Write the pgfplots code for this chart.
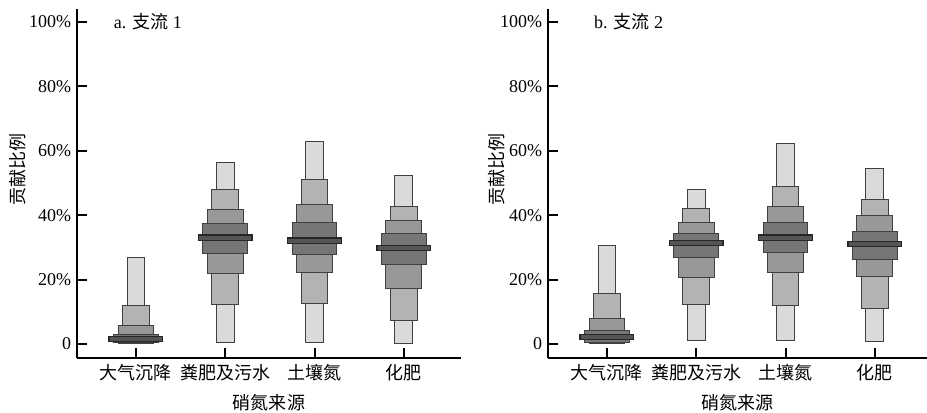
\documentclass[border=0pt]{standalone}
\usepackage{fontspec}
\setmainfont{Liberation Serif}
\newfontfamily\cjk{Noto Sans CJK SC}
\usepackage{pgfplots}
\pgfplotsset{compat=1.18}
\usepgfplotslibrary{statistics}

\definecolor{ca}{HTML}{DADADA}
\definecolor{cb}{HTML}{B3B3B3}
\definecolor{cc}{HTML}{989898}
\definecolor{cd}{HTML}{767676}
\definecolor{ce}{HTML}{555555}

\newcommand\lv[5]{\addplot[boxplot prepared={draw direction=y, draw position=#1, lower whisker=#2, lower quartile=#2, median=#3, upper quartile=#3, upper whisker=#3, box extend=#4, whisker extend=0}, fill=#5, draw=black!75, line width=0.6pt] coordinates {};}
\newcommand\src[9]{%
  \lv{#1}{#2}{#3}{0.2}{ca}%
  \lv{#1}{#4}{#5}{0.3}{cb}%
  \lv{#1}{#6}{#7}{0.4}{cc}%
  \lv{#1}{#8}{#9}{0.5}{cd}%
}
\newcommand\med[3]{\addplot[boxplot prepared={draw direction=y, draw position=#1, lower whisker=#2, lower quartile=#2, median=#3, upper quartile=#3, upper whisker=#3, box extend=0.6, whisker extend=0}, fill=ce, draw=black!85, line width=0.8pt] coordinates {};}

\pgfplotsset{panel/.style={
  scale only axis, height=209.4pt,
  xmin=-0.66, ymin=-4.35, ymax=104,
  axis x line*=bottom, axis y line*=left,
  axis line style={line width=1pt},
  xtick={0,1,2,3}, xticklabels={大气沉降,粪肥及污水,土壤氮,化肥},
  ytick={0,20,40,60,80,100}, yticklabels={0,20\%,40\%,60\%,80\%,100\%},
  xticklabel style={font=\cjk\fontsize{10.8}{12}\selectfont},
  yticklabel style={font=\fontsize{10.8}{12}\selectfont},
  /pgf/number format/assume math mode=true,
  xlabel={硝氮来源}, ylabel={贡献比例},
  xlabel style={font=\cjk\fontsize{10.8}{12}\selectfont, at={(axis description cs:0.5,-0.129)}, anchor=center},
  ylabel style={font=\cjk\fontsize{10.8}{12}\selectfont, anchor=center},
  clip=false,
}}

\begin{document}
\begin{tikzpicture}
\begin{axis}[panel, width=230.4pt, xmax=3.64,
  tick align=inside, major tick length=6pt, tick style={line width=1.2pt, black},
  ylabel style={at={(axis description cs:-0.154,0.54)}}]
\src{0}{0.0}{26.8}{0.05}{11.9}{0.1}{5.7}{0.5}{3.1}
\med{0}{0.7}{2.3}
\src{1}{0.5}{56.3}{12.4}{48.0}{21.8}{41.8}{28.2}{37.5}
\med{1}{32.2}{33.8}
\src{2}{0.4}{62.9}{12.6}{51.1}{22.2}{43.4}{27.9}{37.8}
\med{2}{31.3}{32.9}
\src{3}{0.0}{52.4}{7.2}{42.6}{17.3}{38.4}{24.7}{34.3}
\med{3}{29.0}{30.6}
\node[anchor=west, font=\fontsize{10.8}{12}\selectfont] at (axis description cs:0.081,0.963) {a. {\cjk 支流} 1};
\end{axis}
\begin{axis}[panel, at={(282.6pt,0pt)}, width=227.4pt, xmax=3.585,
  tick align=inside, major tick length=6pt, tick style={line width=1.2pt, black},
  ylabel style={at={(axis description cs:-0.135,0.54)}}]
\src{0}{0.1}{30.5}{0.1}{15.6}{0.2}{7.8}{0.6}{4.3}
\med{0}{1.4}{3.0}
\src{1}{1.1}{47.9}{12.3}{42.0}{20.7}{37.8}{26.8}{34.3}
\med{1}{30.5}{32.1}
\src{2}{1.1}{62.1}{12.1}{49.0}{22.2}{42.8}{28.5}{37.6}
\med{2}{32.2}{33.8}
\src{3}{0.7}{54.5}{11.1}{45.0}{20.9}{40.0}{26.3}{35.0}
\med{3}{30.3}{31.9}
\node[anchor=west, font=\fontsize{10.8}{12}\selectfont] at (axis description cs:0.106,0.963) {b. {\cjk 支流} 2};
\end{axis}
\pgfresetboundingbox
\path (-46.2pt,-32.4pt) rectangle (510pt,214.8pt);
\end{tikzpicture}
\end{document}
